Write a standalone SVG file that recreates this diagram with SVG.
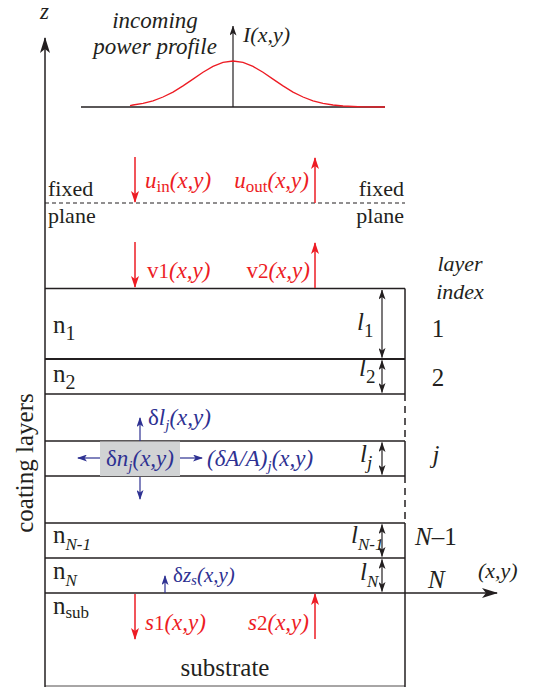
<svg xmlns="http://www.w3.org/2000/svg" width="543" height="687" viewBox="0 0 543 687">
<defs>
<marker id="mr" viewBox="0 0 12 8" refX="11" refY="4" markerWidth="12" markerHeight="8" markerUnits="userSpaceOnUse" orient="auto"><path d="M0,0 L12,4 L0,8 L3,4 Z" fill="#ed1c24"/></marker>
<marker id="mb" viewBox="0 0 10 7" refX="9" refY="3.5" markerWidth="10" markerHeight="7" markerUnits="userSpaceOnUse" orient="auto"><path d="M0,0 L10,3.5 L0,7 L2.5,3.5 Z" fill="#2e3192"/></marker>
<marker id="mk" viewBox="0 0 10 7" refX="9.5" refY="3.5" markerWidth="10" markerHeight="7" markerUnits="userSpaceOnUse" orient="auto"><path d="M0,0 L10,3.5 L0,7 L2.5,3.5 Z" fill="#231f20"/></marker>
<marker id="mks" viewBox="0 0 10 7" refX="0.5" refY="3.5" markerWidth="10" markerHeight="7" markerUnits="userSpaceOnUse" orient="auto"><path d="M10,0 L0,3.5 L10,7 L7.5,3.5 Z" fill="#231f20"/></marker>
<marker id="mbig" viewBox="0 0 16 10" refX="15" refY="5" markerWidth="16" markerHeight="10" markerUnits="userSpaceOnUse" orient="auto"><path d="M0,0 L16,5 L0,10 L4,5 Z" fill="#231f20"/></marker>
</defs>

<g id="axes">
<line x1="45" y1="687" x2="45" y2="38" stroke="#231f20" stroke-width="1.5" marker-end="url(#mbig)"/>
<line x1="45" y1="593" x2="497" y2="593" stroke="#231f20" stroke-width="1.5" marker-end="url(#mbig)"/>
<text style="font-family:'Liberation Serif',serif" x="40" y="19" font-style="italic" fill="#231f20" font-size="23">z</text>
<text style="font-family:'Liberation Serif',serif" x="478" y="578" font-style="italic" fill="#231f20" font-size="22">(x,y)</text>
</g>

<g id="profile">
<line x1="81" y1="107" x2="385" y2="107" stroke="#231f20" stroke-width="1.5"/>
<line x1="233" y1="107" x2="233" y2="26" stroke="#231f20" stroke-width="1.2" marker-end="url(#mk)"/>
<polyline fill="none" stroke="#ed1c24" stroke-width="1.3" points="130,105.6 133,105 143,103.3 153,100.8 163,97 173,92.1 183,85.9 193,79.1 203,72.3 213,66.4 223,62.4 233,61 243,62.4 253,66.4 263,72.3 273,79.1 283,85.9 293,92.1 303,97 313,100.8 323,103.3 333,105 343,106 353,106.5 363,106.8 385,107"/>
<text style="font-family:'Liberation Serif',serif" x="243" y="42" font-style="italic" fill="#231f20" font-size="22">I(x,y)</text>
<text style="font-family:'Liberation Serif',serif" x="155" y="28" font-style="italic" fill="#231f20" font-size="23" text-anchor="middle">incoming</text>
<text style="font-family:'Liberation Serif',serif" x="155" y="54" font-style="italic" fill="#231f20" font-size="23" text-anchor="middle">power profile</text>
</g>

<g id="fixed-plane">
<line x1="45" y1="203" x2="405" y2="203" stroke="#231f20" stroke-width="1.2" stroke-dasharray="4,3"/>
<text style="font-family:'Liberation Serif',serif" x="48" y="196" font-size="22" fill="#231f20">fixed</text>
<text style="font-family:'Liberation Serif',serif" x="48" y="223" font-size="22" fill="#231f20">plane</text>
<text style="font-family:'Liberation Serif',serif" x="404" y="196" font-size="22" fill="#231f20" text-anchor="end">fixed</text>
<text style="font-family:'Liberation Serif',serif" x="404" y="223" font-size="22" fill="#231f20" text-anchor="end">plane</text>
</g>

<g id="layers">
<g stroke="#231f20" stroke-width="1.5" fill="none">
<line x1="45" y1="288.5" x2="405" y2="288.5"/>
<line x1="45" y1="359" x2="405" y2="359" stroke-width="2"/>
<line x1="45" y1="394" x2="405" y2="394"/>
<line x1="45" y1="441" x2="405" y2="441"/>
<line x1="45" y1="476" x2="405" y2="476"/>
<line x1="45" y1="523" x2="405" y2="523"/>
<line x1="45" y1="558" x2="405" y2="558"/>
<line x1="45" y1="686" x2="405" y2="686" stroke-width="0.8"/>
<line x1="405" y1="288.5" x2="405" y2="394"/>
<line x1="405" y1="394" x2="405" y2="441" stroke-dasharray="7,5"/>
<line x1="405" y1="441" x2="405" y2="476"/>
<line x1="405" y1="476" x2="405" y2="523" stroke-dasharray="7,5"/>
<line x1="405" y1="523" x2="405" y2="687"/>
</g>
<text style="font-family:'Liberation Serif',serif" transform="translate(33,463) rotate(-90)" font-size="25" fill="#231f20" text-anchor="middle">coating layers</text>
<text style="font-family:'Liberation Serif',serif" x="225" y="676" font-size="25" fill="#231f20" text-anchor="middle">substrate</text>
<text style="font-family:'Liberation Serif',serif" x="460" y="271" font-style="italic" fill="#231f20" font-size="22" text-anchor="middle">layer</text>
<text style="font-family:'Liberation Serif',serif" x="460" y="299" font-style="italic" fill="#231f20" font-size="22" text-anchor="middle">index</text>
</g>

<g id="layer-1">
<text style="font-family:'Liberation Serif',serif" x="53" y="333" font-size="25" fill="#231f20">n<tspan dy="7" font-size="20">1</tspan></text>
<text style="font-family:'Liberation Serif',serif" x="357" y="330" font-style="italic" fill="#231f20" font-size="25">l<tspan dy="7" font-size="19" font-style="normal">1</tspan></text>
<line x1="382" y1="290" x2="382" y2="357.5" stroke="#231f20" stroke-width="1.2" marker-start="url(#mks)" marker-end="url(#mk)"/>
<text style="font-family:'Liberation Serif',serif" x="438" y="337" font-size="25" fill="#231f20" text-anchor="middle">1</text>
</g>

<g id="layer-2">
<text style="font-family:'Liberation Serif',serif" x="53" y="382" font-size="25" fill="#231f20">n<tspan dy="7" font-size="20">2</tspan></text>
<text style="font-family:'Liberation Serif',serif" x="359" y="376" font-style="italic" fill="#231f20" font-size="25">l<tspan dy="7" font-size="19" font-style="normal">2</tspan></text>
<line x1="382" y1="360.5" x2="382" y2="392.5" stroke="#231f20" stroke-width="1.2" marker-start="url(#mks)" marker-end="url(#mk)"/>
<text style="font-family:'Liberation Serif',serif" x="438" y="386" font-size="25" fill="#231f20" text-anchor="middle">2</text>
</g>

<g id="layer-j">
<rect x="100" y="441.5" width="80" height="34.5" fill="#d1d3d4"/>
<text style="font-family:'Liberation Serif',serif" x="140" y="466" font-size="23" fill="#2e3192" text-anchor="middle">&#948;<tspan font-style="italic">n<tspan dy="5" font-size="15">j</tspan><tspan dy="-5">(x,y)</tspan></tspan></text>
<text style="font-family:'Liberation Serif',serif" x="148" y="425" font-size="23" fill="#2e3192">&#948;<tspan font-style="italic">l<tspan dy="5" font-size="15">j</tspan><tspan dy="-5">(x,y)</tspan></tspan></text>
<text style="font-family:'Liberation Serif',serif" x="207" y="466" font-size="23" fill="#2e3192" font-style="italic">(&#948;A/A)<tspan dy="5" font-size="15">j</tspan><tspan dy="-5">(x,y)</tspan></text>
<text style="font-family:'Liberation Serif',serif" x="360" y="462" font-style="italic" fill="#231f20" font-size="25">l<tspan dy="7" font-size="19">j</tspan></text>
<line x1="382" y1="442.5" x2="382" y2="474.5" stroke="#231f20" stroke-width="1.2" marker-start="url(#mks)" marker-end="url(#mk)"/>
<text style="font-family:'Liberation Serif',serif" x="436" y="463" font-style="italic" fill="#231f20" font-size="25" text-anchor="middle">j</text>
</g>

<g id="layer-N-1">
<text style="font-family:'Liberation Serif',serif" x="53" y="543" font-size="25" fill="#231f20">n<tspan dy="7" font-size="17" font-style="italic">N-1</tspan></text>
<text style="font-family:'Liberation Serif',serif" x="351" y="543" font-style="italic" fill="#231f20" font-size="25">l<tspan dy="7" font-size="17">N-1</tspan></text>
<line x1="382" y1="524.5" x2="382" y2="556.5" stroke="#231f20" stroke-width="1.2" marker-start="url(#mks)" marker-end="url(#mk)"/>
<text style="font-family:'Liberation Serif',serif" x="415" y="545" font-style="italic" fill="#231f20" font-size="25">N<tspan font-style="normal">&#8211;1</tspan></text>
</g>

<g id="layer-N">
<text style="font-family:'Liberation Serif',serif" x="53" y="579" font-size="25" fill="#231f20">n<tspan dy="7" font-size="17" font-style="italic">N</tspan></text>
<text style="font-family:'Liberation Serif',serif" x="360" y="580" font-style="italic" fill="#231f20" font-size="25">l<tspan dy="7" font-size="17">N</tspan></text>
<line x1="382" y1="559.5" x2="382" y2="591.5" stroke="#231f20" stroke-width="1.2" marker-start="url(#mks)" marker-end="url(#mk)"/>
<text style="font-family:'Liberation Serif',serif" x="428" y="588" font-style="italic" fill="#231f20" font-size="25">N</text>
<text style="font-family:'Liberation Serif',serif" x="173" y="582" font-size="21" fill="#2e3192">&#948;<tspan font-style="italic">z<tspan dy="3" font-size="15">s</tspan><tspan dy="-3">(x,y)</tspan></tspan></text>
</g>

<g id="substrate">
<text style="font-family:'Liberation Serif',serif" x="53" y="614" font-size="25" fill="#231f20">n<tspan dy="4" font-size="17">sub</tspan></text>
</g>

<g id="connectors">
<g stroke="#ed1c24" stroke-width="1.5" fill="none" marker-end="url(#mr)">
<line x1="135" y1="157" x2="135" y2="202"/>
<line x1="315" y1="203" x2="315" y2="158"/>
<line x1="135" y1="242" x2="135" y2="287"/>
<line x1="315" y1="288" x2="315" y2="243"/>
<line x1="135" y1="594" x2="135" y2="639"/>
<line x1="315" y1="639" x2="315" y2="594"/>
</g>
<g stroke="#2e3192" stroke-width="1.2" fill="none" marker-end="url(#mb)">
<line x1="140" y1="441" x2="140" y2="418"/>
<line x1="140" y1="477" x2="140" y2="499"/>
<line x1="100" y1="458" x2="78" y2="458"/>
<line x1="180" y1="458" x2="202" y2="458"/>
<line x1="165" y1="593" x2="165" y2="576"/>
</g>
<text style="font-family:'Liberation Serif',serif" x="145" y="188" font-size="23" fill="#ed1c24" font-style="italic">u<tspan dy="4" font-size="17" font-style="normal">in</tspan><tspan dy="-4">(x,y)</tspan></text>
<text style="font-family:'Liberation Serif',serif" x="309" y="188" font-size="23" fill="#ed1c24" font-style="italic" text-anchor="end">u<tspan dy="4" font-size="17" font-style="normal">out</tspan><tspan dy="-4">(x,y)</tspan></text>
<text style="font-family:'Liberation Serif',serif" x="147" y="278" font-size="23" fill="#ed1c24">v<tspan font-size="21">1</tspan><tspan font-style="italic">(x,y)</tspan></text>
<text style="font-family:'Liberation Serif',serif" x="310" y="278" font-size="23" fill="#ed1c24" text-anchor="end">v<tspan font-size="21">2</tspan><tspan font-style="italic">(x,y)</tspan></text>
<text style="font-family:'Liberation Serif',serif" x="145" y="630" font-size="23" fill="#ed1c24"><tspan font-style="italic">s</tspan><tspan font-size="21">1</tspan><tspan font-style="italic">(x,y)</tspan></text>
<text style="font-family:'Liberation Serif',serif" x="309" y="630" font-size="23" fill="#ed1c24" text-anchor="end"><tspan font-style="italic">s</tspan><tspan font-size="21">2</tspan><tspan font-style="italic">(x,y)</tspan></text>
</g>
</svg>
